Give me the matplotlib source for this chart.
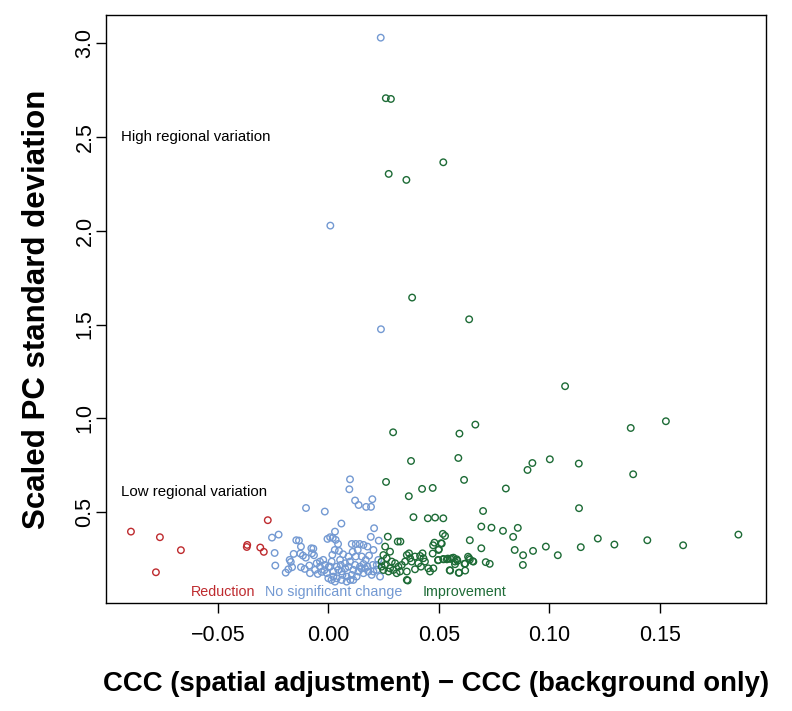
import matplotlib
matplotlib.use("Agg")
import matplotlib.pyplot as plt

plt.rcParams['font.family'] = ['Liberation Sans', 'DejaVu Sans']

# Reduction (red)
red_x = [-0.0893, -0.0762, -0.0667, -0.0780, -0.0274, -0.0367, -0.0369, -0.0308, -0.0292]
red_y = [0.395, 0.365, 0.296, 0.178, 0.456, 0.324, 0.313, 0.310, 0.287]

# No significant change (blue)
blue_x = [0.0237, 0.0009, 0.0238,
          0.0098, 0.0095, 0.0121, 0.0137, 0.0171, 0.0193, 0.0199, -0.0101, -0.0016, 0.0059,
          0.0207, 0.0030, -0.0255, -0.0225, -0.0243, -0.0240, -0.0193, -0.0181, -0.0164,
          -0.0175, -0.0170, -0.0157, -0.0145, -0.0133, -0.0124, -0.0127, -0.0115, -0.0102,
          -0.0124, -0.0107, -0.0086, -0.0077, -0.0068, -0.0074, -0.0065, -0.0053, -0.0038,
          -0.0023, -0.0048, -0.0030, -0.0018, 0.0002, -0.0004, 0.0008, 0.0020, 0.0033,
          0.0044, 0.0018, 0.0029, 0.0048, 0.0067, 0.0106, 0.0124, 0.0142, 0.0133, 0.0110,
          0.0124, 0.0159, 0.0177, 0.0192, 0.0228, 0.0204, 0.0184, 0.0169, 0.0159, 0.0150,
          0.0177, 0.0201, 0.0219, 0.0234, 0.0014, 0.0030, 0.0038, 0.0064, 0.0083, 0.0100,
          0.0076, 0.0091, 0.0056, 0.0038, 0.0023, 0.0045, 0.0060, 0.0113, 0.0136, 0.0159,
          0.0204, -0.0007, 0.0008, -0.0038, -0.0015, 0.0015, 0.0053, 0.0076, 0.0098, 0.0121,
          0.0143, 0.0166, 0.0181, 0.0196, 0.0219, 0.0226, 0.0106, 0.0128, 0.0023, 0.0000,
          0.0060, -0.0060, -0.0083, 0.0091, 0.0151, 0.0113, 0.0083]
blue_y = [3.031, 2.028, 1.475,
          0.674, 0.621, 0.561, 0.537, 0.527, 0.527, 0.568, 0.521, 0.502, 0.438,
          0.413, 0.395, 0.363, 0.379, 0.281, 0.214, 0.176, 0.194, 0.205,
          0.244, 0.233, 0.276, 0.349, 0.347, 0.315, 0.278, 0.267, 0.256,
          0.205, 0.196, 0.214, 0.306, 0.304, 0.279, 0.269, 0.226, 0.235,
          0.244, 0.169, 0.180, 0.189, 0.208, 0.356, 0.365, 0.361, 0.351,
          0.329, 0.271, 0.297, 0.292, 0.274, 0.329, 0.329, 0.329, 0.297, 0.287,
          0.262, 0.324, 0.315, 0.367, 0.347, 0.297, 0.267, 0.244, 0.222, 0.198,
          0.208, 0.217, 0.191, 0.155, 0.137, 0.128, 0.146, 0.164, 0.155, 0.137,
          0.226, 0.208, 0.217, 0.208, 0.182, 0.191, 0.182, 0.191, 0.182, 0.173,
          0.182, 0.173, 0.208, 0.208, 0.217, 0.235, 0.244, 0.199, 0.235, 0.217,
          0.208, 0.199, 0.182, 0.164, 0.217, 0.244, 0.164, 0.155, 0.155, 0.146,
          0.137, 0.191, 0.173, 0.262, 0.262, 0.137, 0.128]

# Improvement (green)
green_x = [0.0260, 0.0283, 0.0520, 0.0273, 0.0353, 0.0379, 0.0637, 0.1071, 0.0293,
           0.0593, 0.0665, 0.1368, 0.1527, 0.0374, 0.0588, 0.0614, 0.0261, 0.0901, 0.0923,
           0.1002, 0.1133, 0.1379, 0.0803, 0.0364, 0.0424, 0.0472, 0.1134, 0.0700, 0.0385,
           0.0450, 0.0483, 0.0520, 0.0692, 0.0738, 0.0790, 0.0857, 0.0836, 0.0843, 0.0881,
           0.0880, 0.0926, 0.0984, 0.1038, 0.1142, 0.1219, 0.1294, 0.1443, 0.1605, 0.1855,
           0.0640, 0.0692, 0.0712, 0.0730, 0.0518, 0.0528, 0.0513, 0.0474, 0.0480, 0.0500,
           0.0472, 0.0640, 0.0632, 0.0619, 0.0653, 0.0619, 0.0590, 0.0549, 0.0584, 0.0573,
           0.0566, 0.0552, 0.0536, 0.0520, 0.0496,
           0.0269, 0.0314, 0.0326, 0.0257, 0.0279, 0.0249, 0.0264, 0.0287, 0.0302, 0.0241,
           0.0256, 0.0279, 0.0294, 0.0317, 0.0332, 0.0347, 0.0355, 0.0324, 0.0309, 0.0272,
           0.0249, 0.0241, 0.0355, 0.0365,
           0.0510, 0.0498, 0.0355, 0.0370, 0.0392, 0.0415, 0.0426, 0.0430, 0.0377, 0.0407,
           0.0437, 0.0419, 0.0392, 0.0452, 0.0475, 0.0460, 0.0498, 0.0521, 0.0540, 0.0558,
           0.0573, 0.0581, 0.0551, 0.0592, 0.0616, 0.0637, 0.0656, 0.0359]
green_y = [2.708, 2.704, 2.366, 2.304, 2.272, 1.644, 1.528, 1.171, 0.925,
           0.918, 0.966, 0.948, 0.984, 0.772, 0.788, 0.671, 0.660, 0.724, 0.761,
           0.781, 0.758, 0.701, 0.625, 0.584, 0.623, 0.628, 0.520, 0.505, 0.472,
           0.466, 0.470, 0.466, 0.422, 0.416, 0.399, 0.415, 0.367, 0.297, 0.269,
           0.217, 0.292, 0.315, 0.269, 0.312, 0.358, 0.326, 0.349, 0.322, 0.379,
           0.349, 0.306, 0.232, 0.223, 0.383, 0.372, 0.331, 0.322, 0.336, 0.301,
           0.278, 0.245, 0.261, 0.224, 0.237, 0.187, 0.175, 0.189, 0.239, 0.221,
           0.256, 0.249, 0.247, 0.249, 0.242,
           0.368, 0.342, 0.342, 0.315, 0.288, 0.270, 0.253, 0.235, 0.226, 0.235,
           0.217, 0.199, 0.190, 0.208, 0.217, 0.235, 0.182, 0.182, 0.173, 0.182,
           0.190, 0.208, 0.137, 0.279,
           0.333, 0.297, 0.270, 0.253, 0.262, 0.265, 0.279, 0.253, 0.235, 0.226,
           0.235, 0.208, 0.194, 0.199, 0.199, 0.182, 0.244, 0.247, 0.251, 0.253,
           0.235, 0.247, 0.187, 0.176, 0.223, 0.253, 0.235, 0.134]

x_ticks = [-0.05, 0.00, 0.05, 0.10, 0.15]
x_tick_labels = ['\u22120.05', '0.00', '0.05', '0.10', '0.15']
y_ticks = [0.5, 1.0, 1.5, 2.0, 2.5, 3.0]
y_tick_labels = ['0.5', '1.0', '1.5', '2.0', '2.5', '3.0']

RED = '#BE2A2E'
BLUE = '#7399D2'
GREEN = '#1D6B36'

fig = plt.figure(figsize=(7.92, 7.11), dpi=100)
ax = fig.add_axes([0.1338, 0.1519, 0.8334, 0.8270])

kw = dict(s=22, facecolors='none', linewidths=1.0)
ax.scatter(blue_x, blue_y, edgecolors=BLUE, **kw)
ax.scatter(green_x, green_y, edgecolors=GREEN, **kw)
ax.scatter(red_x, red_y, edgecolors=RED, **kw)

ax.set_xlim(-0.1006, 0.1980)
ax.set_ylim(0.014, 3.152)

ax.set_xticks(x_ticks)
ax.set_xticklabels(x_tick_labels)
ax.set_yticks(y_ticks)
ax.set_yticklabels(y_tick_labels, rotation=90, va='center')

ax.tick_params(direction='out', length=7, width=1, labelsize=15.5)
ax.tick_params(axis='x', pad=9)
ax.tick_params(axis='y', pad=0.5)
for sp in ax.spines.values():
    sp.set_linewidth(1.0)

ax.set_xlabel('CCC (spatial adjustment) \u2212 CCC (background only)',
              fontsize=19.8, fontweight='bold', labelpad=18)
ax.set_ylabel('Scaled PC standard deviation', fontsize=22.5, fontweight='bold', labelpad=16)

ax.text(-0.0938, 2.501, 'High regional variation', fontsize=10.8, ha='left', va='center')
ax.text(-0.0938, 0.607, 'Low regional variation', fontsize=10.8, ha='left', va='center')
ax.text(-0.0476, 0.073, 'Reduction', fontsize=10.3, color=RED, ha='center', va='center')
ax.text(0.0026, 0.073, 'No significant change', fontsize=10.3, color=BLUE, ha='center', va='center')
ax.text(0.0618, 0.073, 'Improvement', fontsize=10.3, color=GREEN, ha='center', va='center')

fig.savefig('out.png', dpi=100)
